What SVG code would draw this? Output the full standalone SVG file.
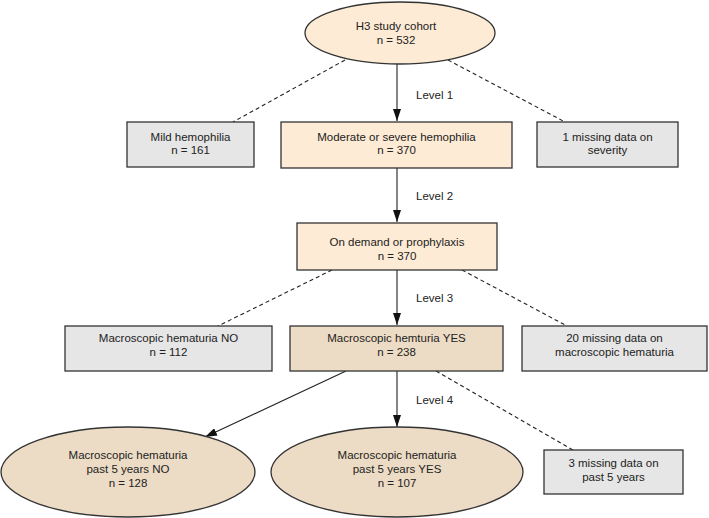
<svg xmlns="http://www.w3.org/2000/svg" width="709" height="518" viewBox="0 0 709 518">
<defs>
<style>
text{font-family:"Liberation Sans",Arial,Helvetica,sans-serif;font-size:11.5px;fill:#222;text-anchor:middle}
.lbl{text-anchor:start}
.box{stroke:#333;stroke-width:1.3}
.gray{fill:#e6e6e6}
.peach{fill:#fdebd5}
.tan{fill:#eddcc5}
.ln{stroke:#222;stroke-width:1.1;fill:none}
.dash{stroke:#222;stroke-width:1.1;fill:none;stroke-dasharray:4,3}
</style>
<marker id="ah" viewBox="0 0 12 8" refX="12" refY="4" markerWidth="12" markerHeight="8" markerUnits="userSpaceOnUse" orient="auto">
<path d="M0,0 L12,4 L0,8 z" fill="#111"/>
</marker>
</defs>
<rect width="709" height="518" fill="#fff"/>
<g id="connectors">
<line class="ln" x1="397" y1="64" x2="397" y2="121" marker-end="url(#ah)"/>
<line class="dash" x1="345" y1="60" x2="233" y2="122"/>
<line class="dash" x1="448" y1="60" x2="565" y2="122"/>
<line class="ln" x1="397" y1="168" x2="397" y2="222" marker-end="url(#ah)"/>
<line class="ln" x1="397" y1="270" x2="397" y2="325" marker-end="url(#ah)"/>
<line class="dash" x1="332" y1="270" x2="218" y2="326"/>
<line class="dash" x1="462" y1="270" x2="567" y2="326"/>
<line class="ln" x1="397" y1="371" x2="397" y2="427" marker-end="url(#ah)"/>
<line class="ln" x1="346" y1="371" x2="205" y2="437" marker-end="url(#ah)"/>
<line class="dash" x1="436" y1="371" x2="573" y2="450"/>
<text class="lbl" x="416" y="99">Level 1</text>
<text class="lbl" x="416" y="200">Level 2</text>
<text class="lbl" x="416" y="302">Level 3</text>
<text class="lbl" x="416" y="404">Level 4</text>
</g>
<g id="cohort">
<ellipse class="box peach" cx="400" cy="33" rx="95" ry="31"/>
<text x="396" y="30">H3 study cohort</text>
<text x="396" y="44">n = 532</text>
</g>
<g id="mild">
<rect class="box gray" x="127" y="122" width="127" height="45"/>
<text x="190.5" y="141">Mild hemophilia</text>
<text x="190.5" y="154">n = 161</text>
</g>
<g id="moderate">
<rect class="box peach" x="281" y="122" width="231" height="46"/>
<text x="396.5" y="141">Moderate or severe hemophilia</text>
<text x="396.5" y="154">n = 370</text>
</g>
<g id="missing-severity">
<rect class="box gray" x="537" y="122" width="141" height="45"/>
<text x="607.5" y="141">1 missing data on</text>
<text x="607.5" y="154">severity</text>
</g>
<g id="ondemand">
<rect class="box peach" x="297" y="223" width="200" height="47"/>
<text x="397" y="246">On demand or prophylaxis</text>
<text x="397" y="260">n = 370</text>
</g>
<g id="hematuria-no">
<rect class="box gray" x="65" y="326" width="207" height="45"/>
<text x="168.5" y="342">Macroscopic hematuria NO</text>
<text x="168.5" y="356">n = 112</text>
</g>
<g id="hematuria-yes">
<rect class="box tan" x="290" y="326" width="213" height="45"/>
<text x="396.5" y="342">Macroscopic hemturia YES</text>
<text x="396.5" y="356">n = 238</text>
</g>
<g id="missing-hematuria">
<rect class="box gray" x="522" y="326" width="185" height="45"/>
<text x="614.5" y="342">20 missing data on</text>
<text x="614.5" y="356">macroscopic hematuria</text>
</g>
<g id="past5-no">
<ellipse class="box tan" cx="128" cy="472" rx="127" ry="45"/>
<text x="128" y="459">Macroscopic hematuria</text>
<text x="128" y="473">past 5 years NO</text>
<text x="128" y="487">n = 128</text>
</g>
<g id="past5-yes">
<ellipse class="box tan" cx="397" cy="472" rx="126" ry="45"/>
<text x="397" y="459">Macroscopic hematuria</text>
<text x="397" y="473">past 5 years YES</text>
<text x="397" y="487">n = 107</text>
</g>
<g id="missing-past5">
<rect class="box gray" x="544" y="450" width="139" height="44"/>
<text x="613.5" y="467">3 missing data on</text>
<text x="613.5" y="481">past 5 years</text>
</g>
</svg>
